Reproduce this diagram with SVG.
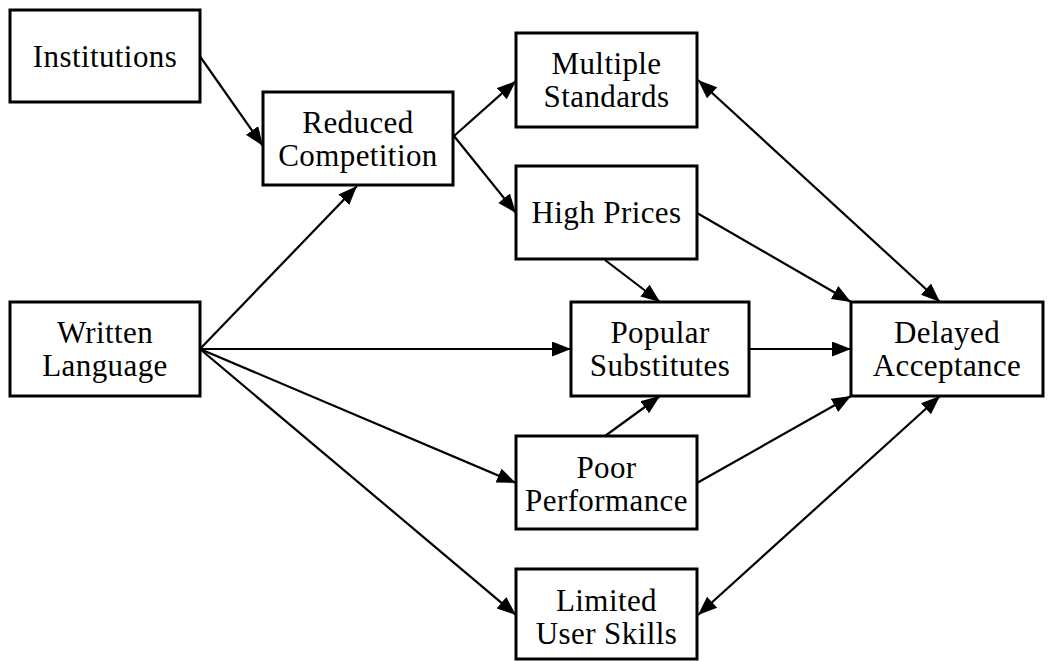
<svg xmlns="http://www.w3.org/2000/svg" width="1049" height="661" viewBox="0 0 1049 661">
<style>
.box{fill:#fff;stroke:#000;stroke-width:3}
.lbl{font-family:"Liberation Serif","Times New Roman",serif;font-size:31px;fill:#000;text-anchor:middle;letter-spacing:0.4px}
.edge{stroke:#000;stroke-width:2.2;fill:none;marker-end:url(#ah)}
.bi{marker-start:url(#ahs)}
</style>
<defs>
<marker id="ah" markerUnits="userSpaceOnUse" markerWidth="20" markerHeight="16" refX="19" refY="7.5" orient="auto">
<path d="M0,0 L19,7.5 L0,15 Z" fill="#000"/>
</marker>
<marker id="ahs" markerUnits="userSpaceOnUse" markerWidth="20" markerHeight="16" refX="0" refY="7.5" orient="auto">
<path d="M19,0 L0,7.5 L19,15 Z" fill="#000"/>
</marker>
</defs>
<g id="connectors">
<line class="edge" x1="199" y1="55" x2="263" y2="146"/>
<line class="edge" x1="200" y1="349" x2="357" y2="186"/>
<line class="edge" x1="454" y1="136" x2="516" y2="81"/>
<line class="edge" x1="454" y1="136" x2="516" y2="213"/>
<line class="edge" x1="200" y1="349" x2="571" y2="349"/>
<line class="edge" x1="200" y1="349" x2="516" y2="483"/>
<line class="edge" x1="200" y1="349" x2="516" y2="615"/>
<line class="edge" x1="605" y1="260" x2="660" y2="302"/>
<line class="edge" x1="605" y1="436" x2="660" y2="396"/>
<line class="edge" x1="697" y1="213" x2="851" y2="302"/>
<line class="edge" x1="749" y1="349" x2="851" y2="349"/>
<line class="edge" x1="697" y1="483" x2="851" y2="396"/>
<line class="edge bi" x1="698" y1="80" x2="940" y2="302"/>
<line class="edge bi" x1="698" y1="615" x2="940" y2="396"/>
</g>
<g id="institutions"><rect class="box" x="10" y="10" width="190" height="92"/><text class="lbl" x="105" y="67">Institutions</text></g>
<g id="reduced-competition"><rect class="box" x="263" y="92" width="190" height="93"/><text class="lbl" x="358" y="133">Reduced</text><text class="lbl" x="358" y="166">Competition</text></g>
<g id="multiple-standards"><rect class="box" x="516" y="33" width="181" height="94"/><text class="lbl" x="606.5" y="74">Multiple</text><text class="lbl" x="606.5" y="107">Standards</text></g>
<g id="high-prices"><rect class="box" x="516" y="166" width="181" height="93"/><text class="lbl" x="606.5" y="223">High Prices</text></g>
<g id="written-language"><rect class="box" x="10" y="302" width="190" height="94"/><text class="lbl" x="105" y="343">Written</text><text class="lbl" x="105" y="376">Language</text></g>
<g id="popular-substitutes"><rect class="box" x="571" y="302" width="178" height="94"/><text class="lbl" x="660" y="343">Popular</text><text class="lbl" x="660" y="376">Substitutes</text></g>
<g id="delayed-acceptance"><rect class="box" x="851" y="302" width="192" height="94"/><text class="lbl" x="947" y="343">Delayed</text><text class="lbl" x="947" y="376">Acceptance</text></g>
<g id="poor-performance"><rect class="box" x="516" y="436" width="181" height="93"/><text class="lbl" x="606.5" y="478">Poor</text><text class="lbl" x="606.5" y="511">Performance</text></g>
<g id="limited-user-skills"><rect class="box" x="516" y="569" width="181" height="90"/><text class="lbl" x="606.5" y="611">Limited</text><text class="lbl" x="606.5" y="644">User Skills</text></g>
</svg>
